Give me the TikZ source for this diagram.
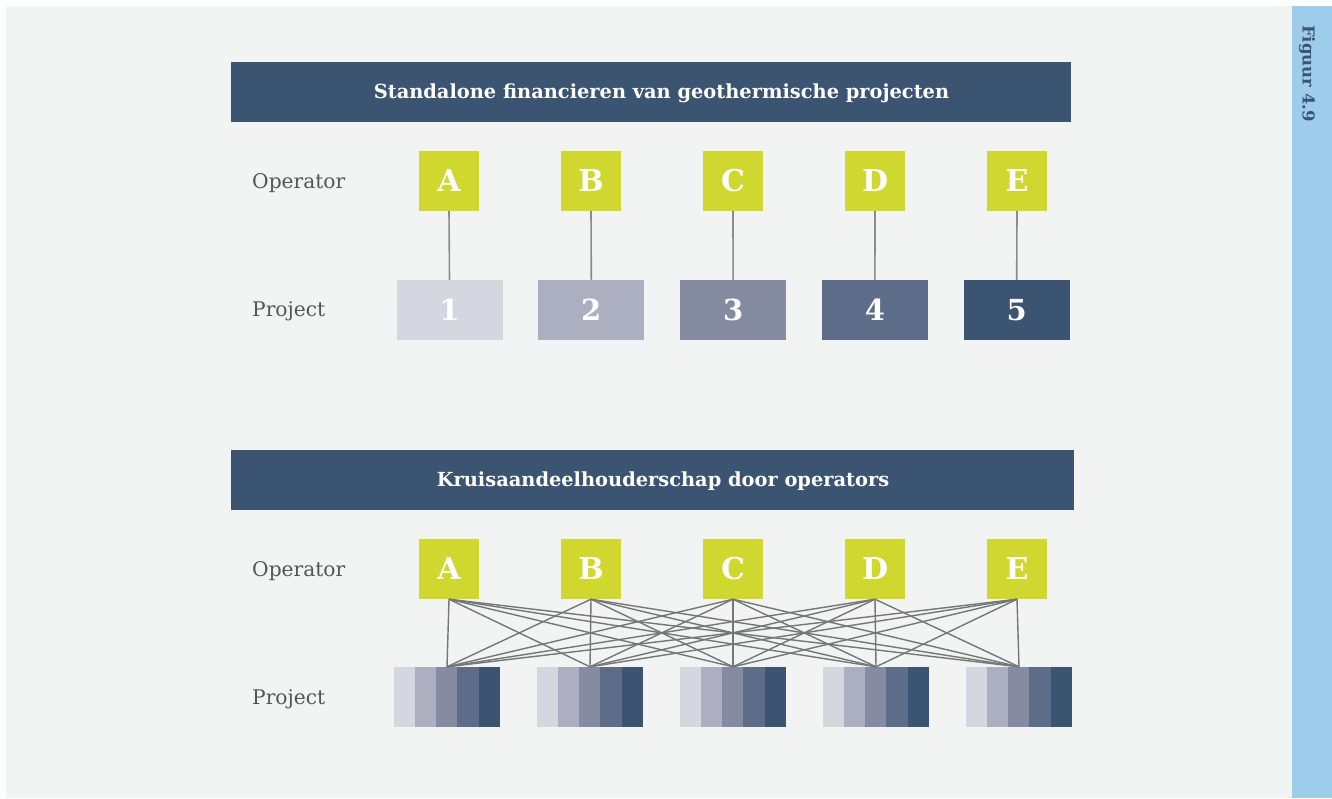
\documentclass[tikz,border=0pt]{standalone}
\usepackage{fontspec}
\setmainfont{DejaVu Serif}
\usetikzlibrary{calc}
\definecolor{bggray}{HTML}{F2F3F3}
\definecolor{sidebar}{HTML}{9DCDEB}
\definecolor{navy}{HTML}{3B5472}
\definecolor{opgreen}{HTML}{D0D72E}
\definecolor{pc1}{HTML}{D5D6E0}
\definecolor{pc2}{HTML}{ABAFC0}
\definecolor{pc3}{HTML}{858CA2}
\definecolor{pc4}{HTML}{5D6D89}
\definecolor{pc5}{HTML}{3B5472}
\definecolor{labelgray}{HTML}{555555}
\definecolor{linegray}{HTML}{767676}
\begin{document}
\begin{tikzpicture}[x=1pt,y=-1pt,
  banner/.style={fill=navy, minimum height=60pt, inner sep=0pt},
  bannertext/.style={text=white, inner sep=0pt,
    font=\bfseries\fontsize{19.4}{21}\selectfont},
  opbox/.style={fill=opgreen, minimum width=60pt, minimum height=60pt, inner sep=0pt,
    text=white, font=\bfseries\fontsize{30}{30}\selectfont},
  projbox/.style={minimum width=106pt, minimum height=60pt, inner sep=0pt,
    text=white, font=\bfseries\fontsize{29}{29}\selectfont},
  rowlabel/.style={anchor=west, text=labelgray, inner sep=0pt,
    font=\fontsize{20.2}{22}\selectfont},
  link/.style={draw=linegray, line width=1.6pt}]
\useasboundingbox (0,0) rectangle (1332,798);
\fill[white] (0,0) rectangle (1332,798);
\fill[bggray] (6,6) rectangle (1292,798);
\fill[sidebar] (1292,6) rectangle (1332,798);
\node[rotate=-90, anchor=west, text=navy, inner sep=0pt,
  font=\bfseries\fontsize{16.5}{18}\selectfont] (fig) at (1307,25) {Figuur 4.9};

% ---------- top section ----------
\node[banner, minimum width=840pt] (t1) at (651,92) {};
\node[bannertext] (t1txt) at (661.5,93) {Standalone financieren van geothermische projecten};
\node[rowlabel] (lo1) at (252,183) {Operator};
\node[rowlabel] (lp1) at (252,311) {Project};
\foreach \L [count=\i from 0] in {A,B,C,D,E}{
  \node[opbox] (a\i) at ({449+142*\i},181) {\L};
}
\foreach \c [count=\i from 0] in {pc1,pc2,pc3,pc4,pc5}{
  \pgfmathtruncatemacro{\n}{\i+1}
  \node[projbox, fill=\c] (p\i) at ({449.5+141.8*\i},310) {\n};
  \draw[link, draw=linegray!85] (a\i.south) -- (p\i.north);
}

% ---------- bottom section ----------
\node[banner, minimum width=843pt] (t2) at (652.5,480) {};
\node[bannertext] (t2txt) at (663,481) {Kruisaandeelhouderschap door operators};
\node[rowlabel] (lo2) at (252,571) {Operator};
\node[rowlabel] (lp2) at (252,699) {Project};
\foreach \L [count=\i from 0] in {A,B,C,D,E}{
  \node[opbox] (b\i) at ({449+142*\i},569) {\L};
}
\foreach \i in {0,...,4}{
  \node[projbox] (q\i) at ({447+143*\i},697) {};
  \foreach \c [count=\k from 0] in {pc1,pc2,pc3,pc4,pc5}{
    \fill[\c] ($(q\i.north west)+(21.2*\k,0)$) rectangle ++(21.2,60);
  }
}
\foreach \i in {0,...,4}{
  \foreach \j in {0,...,4}{
    \draw[link, line width=1.4pt] (b\i.south) -- (q\j.north);
  }
}
\end{tikzpicture}
\end{document}
